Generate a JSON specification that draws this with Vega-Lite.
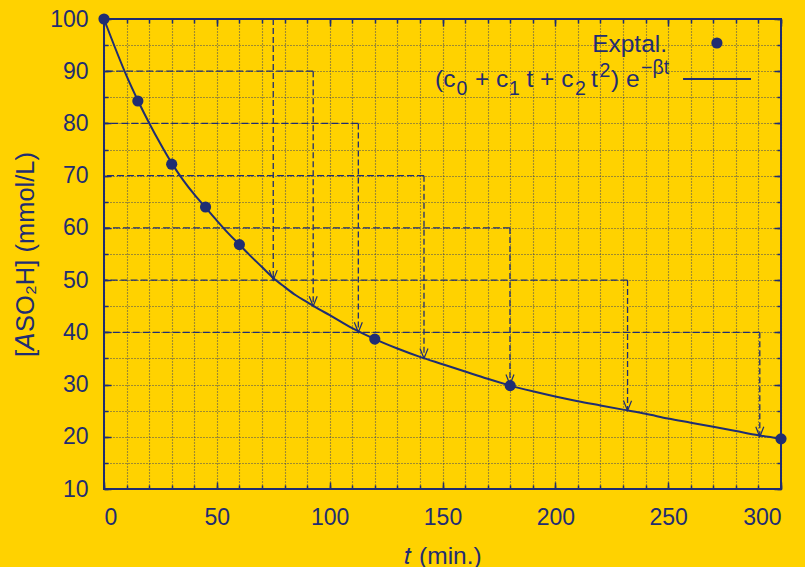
{
  "$schema": "https://vega.github.io/schema/vega-lite/v6.json",
  "width": 677,
  "height": 470,
  "autosize": "none",
  "padding": {"left": 104, "top": 19, "right": 24, "bottom": 78},
  "background": "#ffd200",
  "config": {
    "view": {"stroke": "#1f2d72", "strokeWidth": 2},
    "font": "Liberation Sans",
    "text": {"font": "Liberation Sans", "color": "#1f2d72", "align": "left", "baseline": "alphabetic"},
    "axis": {
      "labelFont": "Liberation Sans",
      "titleFont": "Liberation Sans",
      "labelColor": "#1f2d72",
      "titleColor": "#1f2d72",
      "tickColor": "#1f2d72",
      "domain": false,
      "labelFontSize": 23,
      "titleFontSize": 24.5,
      "titleFontWeight": "normal",
      "gridColor": "#1f2d72",
      "gridDash": [1, 2],
      "gridOpacity": 0.85,
      "gridWidth": 1.1,
      "tickWidth": 1.5
    }
  },
  "datasets": {
    "curve": [
      {"t": 0, "c": 100}, {"t": 5, "c": 94.4}, {"t": 10, "c": 89.1}, {"t": 15, "c": 84.4},
      {"t": 20, "c": 80.1}, {"t": 25, "c": 76.1}, {"t": 30, "c": 72.4}, {"t": 35, "c": 69.2},
      {"t": 40, "c": 66.4}, {"t": 45, "c": 63.9}, {"t": 50, "c": 61.4}, {"t": 55, "c": 59.0},
      {"t": 60, "c": 56.8}, {"t": 65, "c": 54.6}, {"t": 70, "c": 52.5}, {"t": 75, "c": 50.4},
      {"t": 80, "c": 48.7}, {"t": 85, "c": 47.1}, {"t": 90, "c": 45.8}, {"t": 95, "c": 44.5},
      {"t": 100, "c": 43.3}, {"t": 110, "c": 40.8}, {"t": 120, "c": 38.7}, {"t": 130, "c": 36.9},
      {"t": 140, "c": 35.3}, {"t": 150, "c": 33.9}, {"t": 160, "c": 32.5}, {"t": 170, "c": 31.1},
      {"t": 180, "c": 29.8}, {"t": 190, "c": 28.7}, {"t": 200, "c": 27.7}, {"t": 210, "c": 26.8},
      {"t": 220, "c": 26.0}, {"t": 230, "c": 25.2}, {"t": 240, "c": 24.4}, {"t": 250, "c": 23.5},
      {"t": 260, "c": 22.7}, {"t": 270, "c": 21.9}, {"t": 280, "c": 21.1}, {"t": 290, "c": 20.3},
      {"t": 300, "c": 19.6}
    ],
    "points": [
      {"t": 0, "c": 100}, {"t": 15, "c": 84.3}, {"t": 30, "c": 72.2}, {"t": 45, "c": 64.0},
      {"t": 60, "c": 56.8}, {"t": 120, "c": 38.7}, {"t": 180, "c": 29.8}, {"t": 300, "c": 19.6}
    ],
    "half": [
      {"v": 100, "th": 75.0, "h": 50},
      {"v": 90, "th": 92.7, "h": 45},
      {"v": 80, "th": 112.7, "h": 40},
      {"v": 70, "th": 141.8, "h": 35},
      {"v": 60, "th": 179.9, "h": 30},
      {"v": 50, "th": 232.0, "h": 25},
      {"v": 40, "th": 290.6, "h": 20}
    ],
    "one": [{"k": 1}]
  },
  "layer": [
    {
      "data": {"name": "curve"},
      "mark": {"type": "line", "color": "#1f2d72", "strokeWidth": 2, "interpolate": "monotone"},
      "encoding": {
        "x": {"field": "t", "type": "quantitative", "scale": {"domain": [0, 300], "nice": false, "zero": false},
          "axis": {"orient": "bottom", "values": [0,10,20,30,40,50,60,70,80,90,100,110,120,130,140,150,160,170,180,190,200,210,220,230,240,250,260,270,280,290,300], "labels": false, "grid": true, "tickSize": -4, "title": null}},
        "y": {"field": "c", "type": "quantitative", "scale": {"domain": [10, 100], "nice": false, "zero": false},
          "axis": {"orient": "left", "values": [10,15,20,25,30,35,40,45,50,55,60,65,70,75,80,85,90,95,100], "labels": false, "grid": true, "tickSize": -4, "title": null}}
      }
    },
    {
      "data": {"name": "half"},
      "mark": {"type": "rule", "color": "#1f2d72", "strokeWidth": 1.3, "strokeDash": [7, 3]},
      "encoding": {
        "x": {"field": "th", "type": "quantitative", "scale": {"domain": [0, 300], "nice": false, "zero": false},
          "axis": {"orient": "top", "values": [0,10,20,30,40,50,60,70,80,90,100,110,120,130,140,150,160,170,180,190,200,210,220,230,240,250,260,270,280,290,300], "labels": false, "grid": false, "tickSize": -4, "title": null}},
        "x2": {"datum": 0},
        "y": {"field": "v", "type": "quantitative", "scale": {"domain": [10, 100], "nice": false, "zero": false},
          "axis": {"orient": "right", "values": [10,15,20,25,30,35,40,45,50,55,60,65,70,75,80,85,90,95,100], "labels": false, "grid": false, "tickSize": -4, "title": null}}
      }
    },
    {
      "data": {"name": "points"},
      "mark": {"type": "point", "filled": true, "shape": "circle", "size": 125, "color": "#1f2d72", "opacity": 1},
      "encoding": {
        "x": {"field": "t", "type": "quantitative", "scale": {"domain": [0, 300], "nice": false, "zero": false},
          "axis": {"orient": "bottom", "values": [0, 50, 100, 150, 200, 250, 300], "grid": false, "tickSize": -7, "labelPadding": 24, "title": "𝑡 (min.)", "titlePadding": 15}},
        "y": {"field": "c", "type": "quantitative", "scale": {"domain": [10, 100], "nice": false, "zero": false},
          "axis": {"orient": "left", "values": [10, 20, 30, 40, 50, 60, 70, 80, 90, 100], "grid": false, "tickSize": -7, "labelPadding": 23, "title": "[𝘈SO₂H] (mmol/L)", "titleFontSize": 25.5, "titlePadding": 11}}
      }
    },
    {
      "data": {"name": "half"},
      "mark": {"type": "rule", "color": "#1f2d72", "strokeWidth": 1.3, "strokeDash": [6, 3]},
      "encoding": {
        "x": {"field": "th", "type": "quantitative", "scale": {"domain": [0, 300], "nice": false, "zero": false},
          "axis": {"orient": "top", "values": [0, 50, 100, 150, 200, 250, 300], "labels": false, "grid": false, "tickSize": -7, "title": null}},
        "y": {"field": "v", "type": "quantitative", "scale": {"domain": [10, 100], "nice": false, "zero": false},
          "axis": {"orient": "right", "values": [10, 20, 30, 40, 50, 60, 70, 80, 90, 100], "labels": false, "grid": false, "tickSize": -7, "title": null}},
        "y2": {"field": "h"}
      }
    },
    {
      "data": {"name": "half"},
      "mark": {"type": "point", "shape": "M -1 -2.5 L 0 0 L 1 -2.5", "size": 64, "filled": false, "color": "#1f2d72", "strokeWidth": 1.2, "opacity": 1},
      "encoding": {
        "x": {"field": "th", "type": "quantitative", "axis": null},
        "y": {"field": "h", "type": "quantitative", "axis": null}
      }
    },
    {
      "data": {"name": "one"},
      "mark": {"type": "text", "text": "Exptal.", "align": "right", "fontSize": 24.5},
      "encoding": {
        "x": {"datum": 249.5, "type": "quantitative", "axis": null},
        "y": {"datum": 93.7, "type": "quantitative", "axis": null}
      }
    },
    {
      "data": {"name": "one"},
      "mark": {"type": "point", "filled": true, "shape": "circle", "size": 125, "color": "#1f2d72", "opacity": 1},
      "encoding": {
        "x": {"datum": 271.6, "type": "quantitative", "axis": null},
        "y": {"datum": 95.4, "type": "quantitative", "axis": null}
      }
    },
    {
      "data": {"name": "one"},
      "mark": {"type": "text", "text": "(c", "fontSize": 24.5},
      "encoding": {"x": {"datum": 146.7, "type": "quantitative", "axis": null}, "y": {"datum": 86.9, "type": "quantitative", "axis": null}}
    },
    {
      "data": {"name": "one"},
      "mark": {"type": "text", "text": "0", "fontSize": 19.5},
      "encoding": {"x": {"datum": 156.2, "type": "quantitative", "axis": null}, "y": {"datum": 85.4, "type": "quantitative", "axis": null}}
    },
    {
      "data": {"name": "one"},
      "mark": {"type": "text", "text": "+ c", "fontSize": 24.5},
      "encoding": {"x": {"datum": 164.4, "type": "quantitative", "axis": null}, "y": {"datum": 86.9, "type": "quantitative", "axis": null}}
    },
    {
      "data": {"name": "one"},
      "mark": {"type": "text", "text": "1", "fontSize": 19.5},
      "encoding": {"x": {"datum": 179.5, "type": "quantitative", "axis": null}, "y": {"datum": 85.4, "type": "quantitative", "axis": null}}
    },
    {
      "data": {"name": "one"},
      "mark": {"type": "text", "text": "t + c", "fontSize": 24.5},
      "encoding": {"x": {"datum": 187.2, "type": "quantitative", "axis": null}, "y": {"datum": 86.9, "type": "quantitative", "axis": null}}
    },
    {
      "data": {"name": "one"},
      "mark": {"type": "text", "text": "2", "fontSize": 19.5},
      "encoding": {"x": {"datum": 208.7, "type": "quantitative", "axis": null}, "y": {"datum": 85.4, "type": "quantitative", "axis": null}}
    },
    {
      "data": {"name": "one"},
      "mark": {"type": "text", "text": "t", "fontSize": 24.5},
      "encoding": {"x": {"datum": 215.8, "type": "quantitative", "axis": null}, "y": {"datum": 86.9, "type": "quantitative", "axis": null}}
    },
    {
      "data": {"name": "one"},
      "mark": {"type": "text", "text": "2", "fontSize": 19.5},
      "encoding": {"x": {"datum": 219.6, "type": "quantitative", "axis": null}, "y": {"datum": 88.9, "type": "quantitative", "axis": null}}
    },
    {
      "data": {"name": "one"},
      "mark": {"type": "text", "text": ") e", "fontSize": 24.5},
      "encoding": {"x": {"datum": 224.7, "type": "quantitative", "axis": null}, "y": {"datum": 86.9, "type": "quantitative", "axis": null}}
    },
    {
      "data": {"name": "one"},
      "mark": {"type": "text", "text": "−βt", "fontSize": 19.5},
      "encoding": {"x": {"datum": 238.0, "type": "quantitative", "axis": null}, "y": {"datum": 89.5, "type": "quantitative", "axis": null}}
    },
    {
      "data": {"name": "one"},
      "mark": {"type": "rule", "color": "#1f2d72", "strokeWidth": 2},
      "encoding": {
        "x": {"datum": 256.6, "type": "quantitative", "axis": null},
        "x2": {"datum": 286.7},
        "y": {"datum": 88.5, "type": "quantitative", "axis": null}
      }
    }
  ],
  "resolve": {"axis": {"x": "independent", "y": "independent"}}
}
